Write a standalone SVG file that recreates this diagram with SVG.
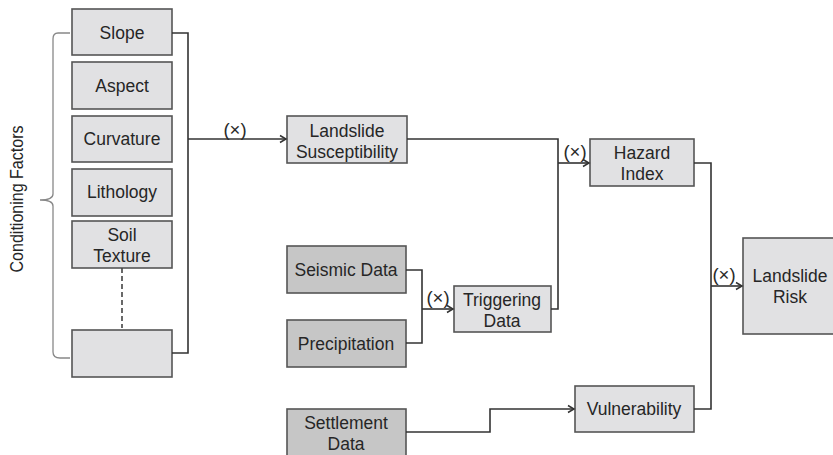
<svg xmlns="http://www.w3.org/2000/svg" width="833" height="455" viewBox="0 0 833 455">
  <defs>
    <marker id="arrow" markerWidth="10" markerHeight="10" refX="8" refY="5" orient="auto" markerUnits="userSpaceOnUse">
      <path d="M2,1.5 L8,5 L2,8.5" fill="none" stroke="#333" stroke-width="1.5"/>
    </marker>
  </defs>
  <style>
    .box { fill: #e1e1e3; stroke: #555; stroke-width: 1.6; }
    .dark { fill: #c6c6c6; stroke: #555; stroke-width: 1.6; }
    .lbl { font-family: "Liberation Sans", Arial, sans-serif; font-size: 17.5px; fill: #262626; text-anchor: middle; }
    .op { font-family: "Liberation Sans", Arial, sans-serif; font-size: 18.5px; fill: #2a2a2a; text-anchor: middle; }
    .wire { fill: none; stroke: #333; stroke-width: 1.6; }
    .brace { fill: none; stroke: #888; stroke-width: 1.3; }
  </style>
  <rect width="833" height="455" fill="#ffffff"/>

  <!-- group label and brace -->
  <text class="lbl" transform="translate(23,199) rotate(-90)" style="font-size:17.5px" textLength="147" lengthAdjust="spacingAndGlyphs">Conditioning Factors</text>
  <path class="brace" d="M70,33 L58,33 Q53,33 53,39 L53,194 Q53,200 40,200 Q53,200 53,206 L53,352 Q53,358 60,358 L70,358"/>

  <!-- conditioning factors -->
  <g id="slope"><rect class="box" x="72" y="9" width="100" height="46"/><text class="lbl" x="122" y="39">Slope</text></g>
  <g id="aspect"><rect class="box" x="72" y="62" width="100" height="47"/><text class="lbl" x="122" y="92">Aspect</text></g>
  <g id="curvature"><rect class="box" x="72" y="116" width="100" height="46"/><text class="lbl" x="122" y="145">Curvature</text></g>
  <g id="lithology"><rect class="box" x="72" y="169" width="100" height="47"/><text class="lbl" x="122" y="198">Lithology</text></g>
  <g id="soil-texture"><rect class="box" x="72" y="221" width="100" height="47"/><text class="lbl" x="122" y="241">Soil</text><text class="lbl" x="122" y="262">Texture</text></g>
  <g id="other-factor"><rect class="box" x="72" y="330" width="100" height="47"/></g>

  <!-- inputs -->
  <g id="seismic"><rect class="dark" x="287" y="246" width="119" height="47"/><text class="lbl" x="346" y="276">Seismic Data</text></g>
  <g id="precipitation"><rect class="dark" x="287" y="320" width="119" height="47"/><text class="lbl" x="346" y="350">Precipitation</text></g>
  <g id="settlement"><rect class="dark" x="287" y="409" width="119" height="50"/><text class="lbl" x="346" y="429">Settlement</text><text class="lbl" x="346" y="450">Data</text></g>

  <!-- derived layers -->
  <g id="susceptibility"><rect class="box" x="287" y="116" width="120" height="47"/><text class="lbl" x="347" y="137">Landslide</text><text class="lbl" x="347" y="158">Susceptibility</text></g>
  <g id="triggering"><rect class="box" x="454" y="286" width="97" height="46"/><text class="lbl" x="502" y="306">Triggering</text><text class="lbl" x="502" y="327">Data</text></g>
  <g id="hazard"><rect class="box" x="590" y="139" width="104" height="47"/><text class="lbl" x="642" y="159">Hazard</text><text class="lbl" x="642" y="180">Index</text></g>
  <g id="vulnerability"><rect class="box" x="575" y="386" width="119" height="46"/><text class="lbl" x="634" y="415">Vulnerability</text></g>
  <g id="risk"><rect class="box" x="743" y="238" width="92" height="96"/><text class="lbl" x="790" y="282">Landslide</text><text class="lbl" x="790" y="303">Risk</text></g>

  <!-- connectors -->
  <g id="connectors">
    <line x1="122" y1="268" x2="122" y2="328" stroke="#444" stroke-width="1.6" stroke-dasharray="5,3"/>
    <path class="wire" d="M172,33 H188 V353 H172"/>
    <path class="wire" d="M188,139 H286" marker-end="url(#arrow)"/>
    <path class="wire" d="M407,139 H558 V309 H551"/>
    <path class="wire" d="M558,163 H589" marker-end="url(#arrow)"/>
    <path class="wire" d="M406,270 H422 V343 H406"/>
    <path class="wire" d="M422,309 H453" marker-end="url(#arrow)"/>
    <path class="wire" d="M406,432 H490 V409 H574" marker-end="url(#arrow)"/>
    <path class="wire" d="M694,163 H711 V409 H694"/>
    <path class="wire" d="M711,286 H742" marker-end="url(#arrow)"/>
  </g>

  <!-- operator labels -->
  <text class="op" x="235" y="136">(×)</text>
  <text class="op" x="438" y="304">(×)</text>
  <text class="op" x="575" y="158">(×)</text>
  <text class="op" x="724" y="281">(×)</text>
</svg>
